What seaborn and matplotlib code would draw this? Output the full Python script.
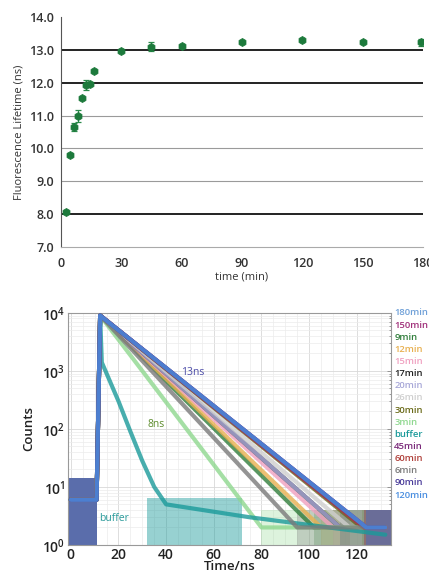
import numpy as np
import pandas as pd
import matplotlib
matplotlib.use("Agg")
import matplotlib.pyplot as plt
import matplotlib.ticker as mticker
import seaborn as sns

# === top panel: lifetime vs incubation time ===
time_min = [2.5, 4.5, 6.5, 8.5, 10.5, 12.5, 14.5, 16.5, 30, 45, 60, 90, 120, 150, 179]
lifetime_ns = [8.05, 9.81, 10.66, 10.98, 11.54, 11.93, 11.96, 12.37, 12.96,
               13.10, 13.13, 13.23, 13.31, 13.23, 13.23]
lifetime_err = [0.03, 0.05, 0.12, 0.18, 0.03, 0.15, 0.04, 0.03, 0.03,
                0.14, 0.03, 0.03, 0.03, 0.03, 0.10]

# === bottom panel: decay traces (legend order) ===
trace_labels = ["180min", "150min", "9min", "12min", "15min", "17min", "20min", "26min",
                "30min", "3min", "buffer", "45min", "60min", "6min", "90min", "120min"]
trace_colors = ["#6fa0d8", "#a0307a", "#2f7d3a", "#e8b050", "#f0a0c0", "#202020", "#a8a8d8",
                "#cfcfcf", "#6b6b1a", "#8fd88f", "#1a9a9a", "#7a2a7a", "#b0403a", "#7a7a7a",
                "#4a3c9a", "#4a8ee0"]
# time (ns) where each decay runs into the noise floor
floor_time = [124, 124, 102, 105, 110, 113, 113, 117, 122, 80, None, 123, 123, 95, 124, 124]

decay_knots_t = [0, 10.8, 12.3]          # baseline, rise, peak
decay_knots_c = [6, 6, 9000]
floor_counts = 2
t_end = 132

buffer_t = [0, 10.8, 12.3, 13.0, 20, 25, 30, 35, 40, 75, 132]
buffer_c = [6, 6, 9000, 1400, 300, 90, 28, 10, 5, 3, 1.5]

baseline_band = (1, 14)      # noisy pre-pulse counts
floor_band = (1, 4)          # noisy tail counts
buffer_band_t = (32, 72)
buffer_band_c = (1, 6.5)

rows = []
for lab, tf in zip(trace_labels, floor_time):
    if lab == "buffer":
        ts, cs = buffer_t, buffer_c
    else:
        ts = decay_knots_t + [tf, t_end]
        cs = decay_knots_c + [floor_counts, floor_counts]
    for t, c in zip(ts, cs):
        rows.append({"trace": lab, "t": t, "counts": c})
traces = pd.DataFrame(rows)

sns.set_style("white")
plt.rcParams["font.family"] = ["Open Sans", "DejaVu Sans"]

fig = plt.figure(figsize=(4.29, 5.73), dpi=100)

# --- top panel ---
ax1 = fig.add_axes([0.142, 0.569, 0.844, 0.401])
for lvl in [9, 10, 11]:
    ax1.axhline(lvl, color="#9a9a9a", lw=0.8, zorder=1)
for lvl in [8, 12, 13]:
    ax1.axhline(lvl, color="#111111", lw=1.3, zorder=1)
ax1.errorbar(time_min, lifetime_ns, yerr=lifetime_err, fmt="none",
             ecolor="#2a8a4a", elinewidth=0.9, capsize=2.5, capthick=0.9, zorder=2)
sns.scatterplot(x=time_min, y=lifetime_ns, ax=ax1, color="#1d7a3c", s=34,
                marker="h", edgecolor="#1d7a3c", linewidth=0.5, zorder=3)
ax1.set_xlim(0, 180)
ax1.set_ylim(7, 14)
ax1.set_xticks(range(0, 181, 30))
ax1.set_yticks(range(7, 15))
ax1.yaxis.set_major_formatter(mticker.FormatStrFormatter("%.1f"))
ax1.xaxis.set_minor_locator(mticker.MultipleLocator(10))
ax1.yaxis.set_minor_locator(mticker.MultipleLocator(0.2))
for s in ["top", "right"]:
    ax1.spines[s].set_visible(False)
ax1.spines["left"].set_color("#555555")
ax1.spines["bottom"].set_color("#aaaaaa")
ax1.tick_params(axis="both", which="major", length=3, width=0.8, color="#333333",
                labelsize=9, labelcolor="#333333", pad=2)
ax1.tick_params(axis="both", which="minor", length=2, width=0.6, color="#666666")
ax1.tick_params(axis="x", pad=4)
for lbl in ax1.get_xticklabels() + ax1.get_yticklabels():
    lbl.set_fontweight("semibold")
ax1.set_xlabel("time (min)", fontsize=8, color="#333333", labelpad=1)
ax1.set_ylabel("Fluorescence Lifetime (ns)", fontsize=8, color="#333333", labelpad=3)

# --- bottom panel ---
ax2 = fig.add_axes([0.159, 0.049, 0.752, 0.405])
ax2.set_yscale("log")
ax2.grid(True, which="major", color="#d8d8d8", lw=0.6)
ax2.grid(True, which="minor", color="#ececec", lw=0.5)
ax2.xaxis.set_minor_locator(mticker.MultipleLocator(5))

for lab, col, tf in zip(trace_labels, trace_colors, floor_time):
    ax2.fill_between([-1.1, 10.8], baseline_band[0], baseline_band[1], color=col,
                     alpha=0.45, lw=0, zorder=2)
    if tf is not None:
        ax2.fill_between([tf, 134.3], floor_band[0], floor_band[1], color=col,
                         alpha=0.3, lw=0, zorder=2)
ax2.fill_between(buffer_band_t, buffer_band_c[0], buffer_band_c[1], color="#1a9a9a",
                 alpha=0.45, lw=0, zorder=2)

sns.lineplot(data=traces, x="t", y="counts", hue="trace", hue_order=trace_labels,
             palette=dict(zip(trace_labels, trace_colors)), estimator=None, sort=False,
             lw=3.0, alpha=0.8, legend=False, ax=ax2, zorder=3)

ax2.set_xlim(-1.1, 134.3)
ax2.set_ylim(1, 1e4)
ax2.set_xticks(range(0, 121, 20))
ax2.yaxis.set_major_locator(mticker.LogLocator(base=10, numticks=10))
ax2.yaxis.set_minor_locator(mticker.LogLocator(base=10, subs=np.arange(2, 10), numticks=10))
ax2.yaxis.set_minor_formatter(mticker.NullFormatter())
for s in ax2.spines.values():
    s.set_color("#999999")
    s.set_linewidth(0.8)
ax2.tick_params(axis="both", which="both", direction="in", right=True, top=False,
                color="#888888", width=0.6)
ax2.tick_params(axis="both", which="major", length=3, labelsize=10, labelcolor="#222222", pad=2)
ax2.tick_params(axis="both", which="minor", length=1.5)
for lbl in ax2.get_xticklabels() + ax2.get_yticklabels():
    lbl.set_fontweight("semibold")
ax2.set_xlabel("Time/ns", fontsize=9.5, fontweight="semibold", color="#222222", labelpad=-1)
ax2.set_ylabel("Counts", fontsize=9.5, fontweight="semibold", color="#222222", labelpad=5)

ax2.text(51, 950, "13ns", color="#4b4ba8", fontsize=7.5, ha="center", va="center", zorder=5)
ax2.text(36, 117, "8ns", color="#5a8a2a", fontsize=7.5, ha="center", va="center", zorder=5)
ax2.text(18, 2.8, "buffer", color="#2a9a9a", fontsize=7.5, ha="center", va="center", zorder=5)

# colored label list on the right
for i, (lab, col) in enumerate(zip(trace_labels, trace_colors)):
    fig.text(0.919, 0.454 - i * 0.0212, lab, color=col, fontsize=6.8,
             fontweight="semibold", ha="left", va="center")

fig.savefig("out.png", dpi=100)
